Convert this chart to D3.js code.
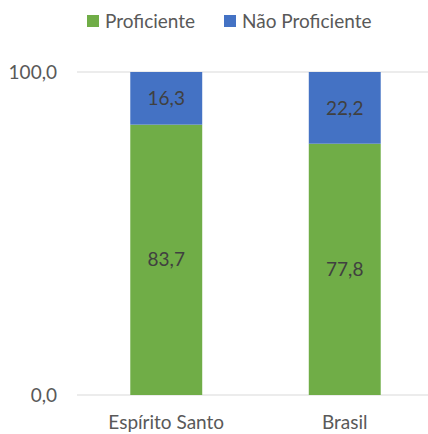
<!DOCTYPE html>
<html>
<head>
<meta charset="utf-8">
<script src="https://cdn.jsdelivr.net/npm/d3@7"></script>
<style>
  body { margin: 0; background: #fff; }
  text { font-family: Lato, "Open Sans", sans-serif; }
</style>
</head>
<body>
<div id="chart"></div>
<script>
var categories = ['Espírito Santo', 'Brasil'];
var proficiente = [83.7, 77.8];
var naoProficiente = [16.3, 22.2];
var seriesNames = ['Proficiente', 'Não Proficiente'];
var seriesColors = ['#70AD47', '#4472C4'];
var yTicks = [0, 100];

var width = 428, height = 434;
var margin = {top: 72, right: -6, bottom: 39, left: 77};
var fontSize = 19;

var fmt = function(v) { return v.toFixed(1).replace('.', ','); };

var svg = d3.select('#chart').append('svg')
  .attr('width', width).attr('height', height);

var x = d3.scaleBand().domain(categories)
  .range([margin.left, width - margin.right])
  .paddingInner(0.597).paddingOuter(0.2985);
var y = d3.scaleLinear().domain([0, 100])
  .range([height - margin.bottom, margin.top]);

// grid lines
svg.append('g').selectAll('line').data(yTicks).enter().append('line')
  .attr('x1', margin.left).attr('x2', width)
  .attr('y1', function(d) { return y(d); }).attr('y2', function(d) { return y(d); })
  .attr('stroke', '#d9d9d9').attr('stroke-width', 1);

svg.append('g').selectAll('text').data(yTicks).enter().append('text')
  .attr('x', 57).attr('y', function(d) { return y(d); })
  .attr('dy', '0.35em').attr('text-anchor', 'end')
  .attr('font-size', fontSize).attr('fill', '#595959')
  .text(fmt);

var stacked = categories.map(function(c, i) {
  return [
    {cat: c, y0: 0, y1: proficiente[i], v: proficiente[i], color: seriesColors[0]},
    {cat: c, y0: proficiente[i], y1: proficiente[i] + naoProficiente[i], v: naoProficiente[i], color: seriesColors[1]}
  ];
});
var segs = [].concat.apply([], stacked);

svg.append('g').selectAll('rect').data(segs).enter().append('rect')
  .attr('x', function(d) { return x(d.cat); })
  .attr('width', x.bandwidth())
  .attr('y', function(d) { return y(d.y1); })
  .attr('height', function(d) { return y(d.y0) - y(d.y1); })
  .attr('fill', function(d) { return d.color; });

svg.append('g').selectAll('text').data(segs).enter().append('text')
  .attr('x', function(d) { return x(d.cat) + x.bandwidth() / 2; })
  .attr('y', function(d) { return (y(d.y0) + y(d.y1)) / 2; })
  .attr('dy', '0.35em').attr('text-anchor', 'middle')
  .attr('font-size', fontSize).attr('fill', '#404040')
  .text(function(d) { return fmt(d.v); });

svg.append('g').selectAll('text').data(categories).enter().append('text')
  .attr('x', function(d) { return x(d) + x.bandwidth() / 2; })
  .attr('y', 422).attr('dy', '0.35em').attr('text-anchor', 'middle')
  .attr('font-size', fontSize).attr('fill', '#595959')
  .text(function(d) { return d; });

// legend
var legendX = [87, 224];
var lg = svg.append('g').selectAll('g').data(seriesNames).enter().append('g')
  .attr('transform', function(d, i) { return 'translate(' + legendX[i] + ',15)'; });
lg.append('rect').attr('width', 12).attr('height', 12)
  .attr('fill', function(d, i) { return seriesColors[i]; });
lg.append('text').attr('x', 18).attr('y', 6).attr('dy', '0.35em')
  .attr('font-size', fontSize).attr('fill', '#595959')
  .text(function(d) { return d; });
</script>
</body>
</html>
